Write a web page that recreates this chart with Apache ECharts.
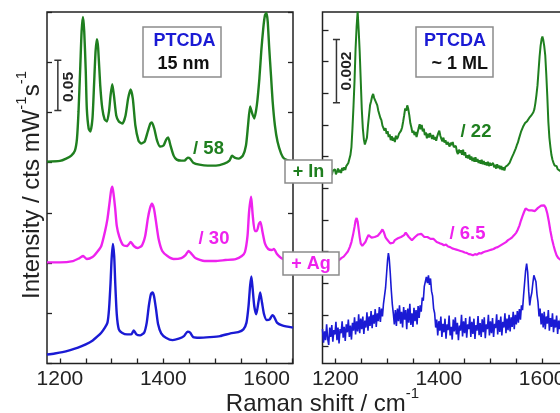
<!DOCTYPE html>
<html><head><meta charset="utf-8">
<script src="https://cdn.jsdelivr.net/npm/echarts@6/dist/echarts.min.js"></script>
<style>html,body{margin:0;padding:0;background:#fff}#c{width:560px;height:413px}</style>
</head><body><div id="c"></div>
<script>
// Raman shift ticks (cm^-1)
const xTickValues = [1200,1250,1300,1350,1400,1450,1500,1550,1600,1650];
const xTickLabels = [1200,1400,1600];
// right panel intensity ticks (10^-3 cts mW^-1 s^-1)
const rightYTicks = [0,1,2,3,4,5,6,7,8,9,10];

// Left panel: PTCDA 15 nm (cts mW^-1 s^-1, with vertical offsets)
const leftGreen = [[1175,0.201],[1200,0.2017],[1212,0.204],[1222,0.207],[1229,0.212],[1233,0.224],[1236,0.251],[1239.5,0.297],[1242,0.331],[1244.6,0.345],[1247,0.331],[1250,0.291],[1252,0.254],[1255.6,0.234],[1259,0.231],[1263,0.244],[1266,0.277],[1269,0.311],[1271.7,0.323],[1274,0.314],[1278,0.277],[1282,0.254],[1286.5,0.243],[1291,0.241],[1295,0.251],[1298,0.267],[1301.3,0.278],[1304.5,0.267],[1309,0.247],[1314,0.241],[1321,0.239],[1327,0.247],[1332,0.264],[1336.7,0.273],[1341,0.264],[1346,0.237],[1352,0.222],[1357,0.219],[1364,0.221],[1370,0.231],[1375,0.239],[1378,0.24],[1382.5,0.234],[1388,0.222],[1394,0.216],[1400.5,0.217],[1405.6,0.223],[1409.5,0.225],[1414,0.217],[1420,0.207],[1426,0.203],[1435,0.202],[1441,0.202],[1447.5,0.205],[1452,0.204],[1458,0.2],[1470,0.198],[1486,0.197],[1502,0.197],[1518,0.199],[1528,0.202],[1533,0.207],[1538,0.205],[1546,0.204],[1554,0.207],[1560,0.217],[1564,0.237],[1568,0.256],[1572,0.249],[1576,0.244],[1581,0.257],[1586,0.284],[1589.6,0.311],[1593.5,0.334],[1596.8,0.347],[1599.4,0.349],[1602,0.341],[1605,0.314],[1608.4,0.287],[1611.6,0.261],[1616,0.237],[1621,0.221],[1628,0.209],[1634,0.204],[1651,0.201]];
const leftMagenta = [[1175,0.1007],[1200,0.1007],[1225,0.102],[1238,0.105],[1245,0.107],[1252,0.104],[1263,0.106],[1272,0.111],[1280,0.117],[1287,0.131],[1292,0.144],[1296,0.160],[1299,0.172],[1301.5,0.176],[1304,0.168],[1307,0.154],[1310,0.137],[1315,0.126],[1322,0.118],[1330,0.117],[1337,0.121],[1343,0.117],[1350,0.115],[1358,0.117],[1365,0.127],[1370,0.144],[1374,0.154],[1378,0.159],[1382,0.154],[1386,0.141],[1391,0.124],[1398,0.112],[1408,0.107],[1420,0.104],[1435,0.105],[1443,0.108],[1449,0.112],[1455,0.109],[1462,0.105],[1480,0.102],[1500,0.102],[1520,0.103],[1540,0.104],[1552,0.107],[1558,0.111],[1563,0.127],[1566,0.151],[1570,0.166],[1573,0.148],[1577,0.132],[1581,0.132],[1585,0.139],[1588,0.141],[1592,0.131],[1597,0.119],[1603,0.114],[1610,0.113],[1614,0.114],[1620,0.109],[1628,0.105],[1637,0.103],[1651,0.102]];
const leftBlue = [[1175,0.009],[1190,0.010],[1205,0.0113],[1220,0.0133],[1235,0.0157],[1250,0.019],[1262,0.0223],[1272,0.0267],[1280,0.0307],[1287,0.0357],[1292,0.0407],[1295,0.054],[1298,0.0807],[1300,0.104],[1302.5,0.119],[1305,0.107],[1307,0.0807],[1310,0.049],[1314,0.034],[1320,0.0307],[1330,0.029],[1338,0.029],[1343,0.033],[1348,0.029],[1355,0.028],[1363,0.0307],[1368,0.0407],[1372,0.0573],[1376,0.069],[1379,0.0707],[1382,0.0673],[1386,0.054],[1390,0.039],[1396,0.03],[1405,0.0257],[1418,0.0233],[1430,0.0247],[1440,0.0273],[1447,0.0317],[1452,0.0307],[1458,0.0263],[1470,0.0257],[1490,0.0263],[1510,0.0273],[1530,0.03],[1545,0.0313],[1555,0.034],[1561,0.0407],[1565,0.0573],[1568,0.0773],[1570.5,0.0867],[1573,0.074],[1576,0.0573],[1580,0.049],[1584,0.0607],[1587.5,0.0707],[1591,0.0607],[1595,0.049],[1600,0.0433],[1606,0.044],[1611,0.048],[1614,0.047],[1620,0.0407],[1630,0.038],[1651,0.0357]];

// Right panel: PTCDA ~1 ML (10^-3 cts mW^-1 s^-1, with vertical offsets)
const rightGreen = [[1175,5.58],[1177,5.48],[1179,5.56],[1181,5.62],[1183,5.5],[1185,5.58],[1187,5.45],[1189,5.6],[1191,5.52],[1193,5.42],[1195,5.55],[1197,5.5],[1199,5.6],[1201,5.44],[1203,5.52],[1205,5.62],[1207,5.5],[1209,5.58],[1211,5.48],[1213,5.64],[1215,5.56],[1217,5.66],[1219,5.58],[1221,5.7],[1223,5.68],[1225,5.8],[1227,5.86],[1229,6.05],[1231,6.3],[1233,6.9],[1235,7.6],[1237,8.4],[1239,9.4],[1241,10.1],[1243,10.58],[1245,10.0],[1247,9.3],[1249,8.4],[1251,7.5],[1253,6.9],[1255,6.55],[1257,6.38],[1259,6.32],[1261,6.6],[1263,6.98],[1265,7.3],[1267,7.62],[1269,7.75],[1271,7.9],[1273,7.98],[1275,7.85],[1277,7.9],[1279,7.7],[1281,7.62],[1283,7.45],[1285,7.4],[1287,7.22],[1289,7.15],[1291,6.98],[1293,6.95],[1295,6.82],[1297,6.9],[1299,6.72],[1301,6.8],[1303,6.62],[1305,6.7],[1307,6.52],[1309,6.64],[1311,6.5],[1313,6.6],[1315,6.46],[1317,6.66],[1319,6.55],[1321,6.62],[1323,6.72],[1325,6.7],[1327,6.82],[1329,6.92],[1331,7.1],[1333,7.3],[1335,7.52],[1337,7.45],[1339,7.62],[1341,7.5],[1343,7.3],[1345,7.05],[1347,6.92],[1349,6.75],[1351,6.82],[1353,6.68],[1355,6.78],[1357,6.62],[1359,6.76],[1361,6.9],[1363,7.02],[1365,6.86],[1367,7.0],[1369,6.8],[1371,6.88],[1373,6.68],[1375,6.76],[1377,6.58],[1379,6.72],[1381,6.6],[1383,6.74],[1385,6.7],[1387,6.56],[1389,6.68],[1391,6.54],[1393,6.62],[1395,6.5],[1397,6.64],[1399,6.74],[1401,6.82],[1403,6.66],[1405,6.56],[1407,6.48],[1409,6.6],[1411,6.44],[1413,6.52],[1415,6.38],[1417,6.46],[1419,6.5],[1421,6.32],[1423,6.44],[1425,6.36],[1427,6.46],[1429,6.3],[1431,6.24],[1433,6.34],[1435,6.16],[1437,6.08],[1439,6.22],[1441,6.12],[1443,6.2],[1445,6.06],[1447,6.22],[1449,6.04],[1451,6.14],[1453,5.96],[1455,6.04],[1457,5.94],[1459,6.06],[1461,5.9],[1463,6.0],[1465,5.86],[1467,5.96],[1469,5.84],[1471,5.98],[1473,5.84],[1475,5.92],[1477,5.8],[1479,5.88],[1481,5.78],[1483,5.9],[1485,5.76],[1487,5.86],[1489,5.74],[1491,5.82],[1493,5.72],[1495,5.84],[1497,5.7],[1499,5.8],[1501,5.72],[1503,5.68],[1505,5.8],[1507,5.66],[1509,5.74],[1511,5.62],[1513,5.76],[1515,5.64],[1517,5.72],[1519,5.6],[1521,5.7],[1523,5.58],[1525,5.66],[1527,5.56],[1529,5.68],[1531,5.62],[1533,5.72],[1535,5.7],[1537,5.8],[1539,5.84],[1541,5.96],[1543,5.98],[1545,6.1],[1547,6.18],[1549,6.26],[1551,6.36],[1553,6.44],[1555,6.56],[1557,6.62],[1559,6.78],[1561,6.82],[1563,6.94],[1565,6.96],[1567,7.06],[1569,7.04],[1571,7.12],[1573,7.08],[1575,7.22],[1577,7.2],[1579,7.3],[1581,7.32],[1583,7.4],[1585,7.5],[1587,7.7],[1589,7.95],[1591,8.25],[1593,8.7],[1595,9.15],[1597,9.5],[1599,9.72],[1600.5,9.79],[1602,9.7],[1604,9.5],[1606,9.2],[1608,8.6],[1610,7.9],[1612,7.1],[1614,6.6],[1616,6.3],[1618,6.05],[1620,5.9],[1622,5.8],[1624,5.72],[1626,5.66],[1628,5.7],[1630,5.6],[1632,5.66],[1634,5.56],[1636,5.62],[1638,5.52],[1640,5.6],[1642,5.5],[1644,5.58],[1646,5.52],[1648,5.6]];
const rightMagenta = [[1175,2.62],[1180,2.6],[1185,2.64],[1190,2.62],[1195,2.66],[1200,2.65],[1204,2.7],[1208,2.74],[1212,2.8],[1216,2.84],[1220,2.92],[1224,3.0],[1228,3.15],[1231,3.3],[1234,3.52],[1237,3.78],[1239,3.98],[1241,4.06],[1243,3.95],[1245,3.7],[1247,3.45],[1249,3.25],[1252,3.18],[1255,3.22],[1258,3.3],[1261,3.42],[1264,3.52],[1267,3.5],[1270,3.44],[1273,3.4],[1276,3.46],[1279,3.42],[1282,3.5],[1285,3.56],[1288,3.62],[1291,3.7],[1294,3.6],[1297,3.45],[1300,3.38],[1303,3.32],[1306,3.26],[1309,3.3],[1312,3.28],[1315,3.36],[1318,3.38],[1321,3.42],[1324,3.4],[1327,3.46],[1330,3.44],[1333,3.52],[1336,3.6],[1339,3.56],[1342,3.46],[1345,3.4],[1348,3.36],[1351,3.42],[1354,3.46],[1357,3.5],[1360,3.54],[1363,3.6],[1366,3.56],[1369,3.5],[1372,3.46],[1375,3.44],[1378,3.46],[1381,3.42],[1384,3.4],[1387,3.36],[1390,3.4],[1393,3.34],[1396,3.3],[1399,3.32],[1402,3.26],[1406,3.24],[1410,3.2],[1414,3.22],[1418,3.16],[1422,3.14],[1426,3.1],[1430,3.08],[1434,3.06],[1438,3.04],[1442,3.02],[1446,3.0],[1450,2.97],[1454,2.96],[1458,2.92],[1462,2.91],[1466,2.88],[1470,2.92],[1474,2.9],[1478,2.95],[1482,2.94],[1486,2.98],[1490,3.0],[1494,3.02],[1498,3.04],[1502,3.06],[1506,3.08],[1510,3.12],[1514,3.14],[1518,3.18],[1522,3.22],[1526,3.26],[1530,3.3],[1534,3.36],[1538,3.4],[1542,3.45],[1546,3.52],[1550,3.6],[1553,3.7],[1556,3.82],[1559,3.98],[1562,4.12],[1565,4.25],[1568,4.36],[1571,4.38],[1574,4.3],[1577,4.26],[1580,4.3],[1583,4.25],[1586,4.28],[1589,4.32],[1592,4.38],[1595,4.42],[1598,4.45],[1601,4.48],[1604,4.46],[1607,4.38],[1610,4.2],[1613,3.95],[1616,3.65],[1619,3.4],[1622,3.2],[1625,3.02],[1628,2.88],[1631,2.8],[1634,2.74],[1640,2.68],[1648,2.62]];
const rightBlue = [[1175,0.55],[1177,0.12],[1179,0.48],[1181,0.2],[1183,0.7],[1185,0.25],[1187,0.05],[1189,0.6],[1191,0.3],[1193,0.68],[1195,0.15],[1197,0.52],[1199,0.38],[1201,0.78],[1203,0.2],[1205,0.6],[1207,0.1],[1209,0.55],[1211,0.42],[1213,0.8],[1215,0.28],[1217,0.62],[1219,0.18],[1221,0.7],[1223,0.45],[1225,0.85],[1227,0.3],[1229,0.66],[1231,0.22],[1233,0.75],[1235,0.5],[1237,0.92],[1239,0.38],[1241,0.8],[1243,0.48],[1245,1.02],[1247,0.42],[1249,0.88],[1251,0.55],[1253,0.95],[1255,0.4],[1257,0.82],[1259,0.6],[1261,1.08],[1263,0.5],[1265,0.95],[1267,0.65],[1269,1.12],[1271,0.58],[1273,1.0],[1275,0.72],[1277,1.18],[1279,0.62],[1281,1.05],[1283,0.8],[1285,1.25],[1287,0.78],[1289,1.2],[1291,0.95],[1293,1.35],[1295,1.4],[1297,1.85],[1299,2.3],[1301,2.75],[1302.5,2.95],[1304,2.8],[1306,2.35],[1308,1.8],[1310,1.35],[1312,1.05],[1314,0.7],[1316,1.15],[1318,0.65],[1320,1.2],[1322,0.8],[1324,1.3],[1326,0.72],[1328,1.1],[1330,0.6],[1332,1.25],[1334,0.85],[1336,1.15],[1338,0.55],[1340,1.2],[1342,0.75],[1344,1.35],[1346,0.68],[1348,1.05],[1350,0.62],[1352,1.22],[1354,0.8],[1356,1.15],[1358,0.7],[1360,1.28],[1362,0.9],[1364,1.3],[1366,1.1],[1368,1.55],[1370,1.45],[1372,1.9],[1374,1.85],[1376,2.2],[1378,2.0],[1380,2.25],[1382,1.95],[1384,2.15],[1386,1.75],[1388,1.6],[1390,1.2],[1392,1.05],[1394,0.6],[1396,0.85],[1398,0.35],[1400,0.8],[1402,0.5],[1404,0.95],[1406,0.3],[1408,0.72],[1410,0.45],[1412,0.88],[1414,0.25],[1416,0.7],[1418,0.52],[1420,0.98],[1422,0.35],[1424,0.62],[1426,0.22],[1428,0.85],[1430,0.48],[1432,0.92],[1434,0.38],[1436,0.75],[1438,0.2],[1440,0.66],[1442,0.5],[1444,1.0],[1446,0.32],[1448,0.8],[1450,0.42],[1452,0.9],[1454,0.28],[1456,0.7],[1458,0.55],[1460,0.95],[1462,0.3],[1464,0.78],[1466,0.4],[1468,0.88],[1470,0.24],[1472,0.68],[1474,0.5],[1476,0.96],[1478,0.36],[1480,0.74],[1482,0.3],[1484,0.86],[1486,0.45],[1488,0.92],[1490,0.26],[1492,0.7],[1494,0.55],[1496,1.0],[1498,0.35],[1500,0.8],[1502,0.42],[1504,0.9],[1506,0.3],[1508,0.72],[1510,0.58],[1512,1.02],[1514,0.38],[1516,0.84],[1518,0.46],[1520,0.95],[1522,0.35],[1524,0.78],[1526,0.6],[1528,1.05],[1530,0.42],[1532,0.88],[1534,0.52],[1536,1.0],[1538,0.48],[1540,0.92],[1542,0.62],[1544,1.1],[1546,0.55],[1548,1.0],[1550,0.7],[1552,1.12],[1554,0.75],[1556,1.18],[1558,0.85],[1560,1.3],[1562,1.15],[1564,1.6],[1566,2.0],[1568,2.4],[1570,2.62],[1572,2.35],[1574,1.75],[1576,1.3],[1578,1.55],[1580,1.7],[1582,2.0],[1584,2.25],[1586,2.3],[1588,2.05],[1590,1.65],[1592,1.4],[1594,0.95],[1596,1.2],[1598,0.7],[1600,1.05],[1602,0.6],[1604,1.1],[1606,0.55],[1608,0.95],[1610,0.72],[1612,1.15],[1614,0.5],[1616,0.9],[1618,0.62],[1620,1.05],[1622,0.45],[1624,0.85],[1626,0.6],[1628,0.98],[1630,0.4],[1632,0.82],[1634,0.55],[1636,0.9],[1638,0.38],[1640,0.78],[1642,0.5],[1644,0.85],[1646,0.35],[1648,0.7]];

// scale bars: wavenumber position, lower end, length (axis units)
const scaleBarLeft = {x: 1196, y0: 0.252, len: 0.05, label: '0.05'};
const scaleBarRight = {x: 1202, y0: 7.70, len: 2, label: '0.002'};

const FONT = 'Liberation Sans, Arial, sans-serif';
const GREEN = '#1f7f1f', MAGENTA = '#ee22ee', BLUE = '#1a1ad4', FRAME = '#222';
const CAP = 6.8;

function barPath(b){
  const t = b.y0 + b.len;
  return [[b.x-CAP,t],[b.x+CAP,t],[b.x,t],[b.x,b.y0],[b.x-CAP,b.y0],[b.x+CAP,b.y0]];
}
function xAx(g){
  return {gridIndex:g, type:'value', min:1175, max:1651, position:'bottom',
    axisLine:{show:false, onZero:false}, splitLine:{show:false},
    axisTick:{inside:true, length:5, customValues:xTickValues, lineStyle:{color:FRAME,width:1.3}},
    axisLabel:{customValues:xTickLabels, fontSize:21, color:'#222', margin:5, fontFamily:FONT,
      formatter:function(v){return String(v);}}};
}
function yAx(g,pos,extra){
  return Object.assign({gridIndex:g, type:'value', position:pos,
    axisLine:{show:false, onZero:false}, splitLine:{show:false}, axisLabel:{show:false},
    axisTick:{inside:true, length:5, lineStyle:{color:FRAME,width:1.3}}}, extra);
}
function line(xi, yi, data, color, w, smooth){
  return {type:'line', xAxisIndex:xi, yAxisIndex:yi, data:data, symbol:'none', showSymbol:false,
    smooth:smooth, color:color, lineStyle:{color:color, width:w}, z:3, silent:true};
}
const rightTickCfg = {inside:true, length:6, customValues:rightYTicks, lineStyle:{color:FRAME,width:1.3}};

const chart = echarts.init(document.getElementById('c'), null, {renderer:'canvas'});
const boxStyle = {fill:'#fff', stroke:'#8c8c8c', lineWidth:1.5};
function txt(x,y,text,color,size,extra){
  return Object.assign({type:'text', x:x, y:y, z:110, style:{text:text, fill:color, font:'bold '+size+'px '+FONT, align:'center', verticalAlign:'middle'}}, extra||{});
}
chart.setOption({
  animation:false,
  backgroundColor:'#fff',
  grid:[
    {left:47, top:12, width:246, height:351.5, show:true, borderColor:FRAME, borderWidth:1.5, backgroundColor:'transparent', containLabel:false, outerBoundsMode:'none'},
    {left:322.5, top:12, width:246, height:351.5, show:true, borderColor:FRAME, borderWidth:1.5, backgroundColor:'transparent', containLabel:false, outerBoundsMode:'none'}
  ],
  xAxis:[xAx(0), xAx(1)],
  yAxis:[
    yAx(0,'left',{min:0,max:0.35,interval:0.05}),
    yAx(0,'right',{min:0,max:0.35,interval:0.05}),
    yAx(1,'left',{min:-0.536,max:10.568,axisTick:rightTickCfg}),
    yAx(1,'right',{min:-0.536,max:10.568,axisTick:rightTickCfg})
  ],
  series:[
    line(0,0,leftGreen,GREEN,2.4,0.2),
    line(0,0,leftMagenta,MAGENTA,2.4,0.2),
    line(0,0,leftBlue,BLUE,2.4,0.2),
    line(1,2,rightGreen,GREEN,2,false),
    line(1,2,rightMagenta,MAGENTA,2.2,false),
    line(1,2,rightBlue,BLUE,1.6,false),
    {type:'line', xAxisIndex:0, yAxisIndex:0, data:barPath(scaleBarLeft), symbol:'none', color:'#333', lineStyle:{color:'#333',width:1.5}, z:4, silent:true},
    {type:'line', xAxisIndex:1, yAxisIndex:2, data:barPath(scaleBarRight), symbol:'none', color:'#333', lineStyle:{color:'#333',width:1.5}, z:4, silent:true}
  ],
  graphic:[
    {type:'text', x:29, y:185, rotation:Math.PI/2, z:100, style:{
      text:'{m|Intensity / cts mW}{s|-1}{m|s}{s|-1}', align:'center', verticalAlign:'middle', fill:'#222',
      rich:{m:{fontSize:24, lineHeight:30, verticalAlign:'bottom', fontFamily:FONT, fill:'#222'},
            s:{fontSize:15, lineHeight:16, verticalAlign:'top', fontFamily:FONT, fill:'#222'}}}},
    {type:'text', x:322.5, y:401, z:100, style:{
      text:'{m|Raman shift / cm}{s|-1}', align:'center', verticalAlign:'middle', fill:'#222',
      rich:{m:{fontSize:24, lineHeight:30, verticalAlign:'bottom', fontFamily:FONT, fill:'#222'},
            s:{fontSize:15, lineHeight:16, verticalAlign:'top', fontFamily:FONT, fill:'#222'}}}},
    {type:'rect', z:105, shape:{x:143, y:27, width:78, height:50}, style:boxStyle},
    txt(184.5,41,'PTCDA',BLUE,18),
    txt(183.5,64,'15 nm','#111',18),
    {type:'rect', z:105, shape:{x:416, y:27, width:77, height:50}, style:boxStyle},
    txt(455,41,'PTCDA',BLUE,18),
    txt(488,64,'~ 1 ML','#111',18,{style:{text:'~ 1 ML', fill:'#111', font:'bold 18px '+FONT, align:'right', verticalAlign:'middle'}}),
    {type:'rect', z:105, shape:{x:285, y:160, width:47, height:23}, style:boxStyle},
    txt(308.5,172,'+ In',GREEN,18),
    {type:'rect', z:105, shape:{x:283, y:252, width:56, height:23}, style:boxStyle},
    txt(311,264,'+ Ag',MAGENTA,18),
    txt(208.5,148.5,'/ 58',GREEN,18.5),
    txt(214,239,'/ 30',MAGENTA,18.5),
    txt(476,132,'/ 22',GREEN,18.5),
    txt(467.5,234,'/ 6.5',MAGENTA,18.5),
    txt(69,87,scaleBarLeft.label,'#222',15.5,{rotation:Math.PI/2}),
    txt(346.5,71,scaleBarRight.label,'#222',15.5,{rotation:Math.PI/2})
  ]
});
</script></body></html>
